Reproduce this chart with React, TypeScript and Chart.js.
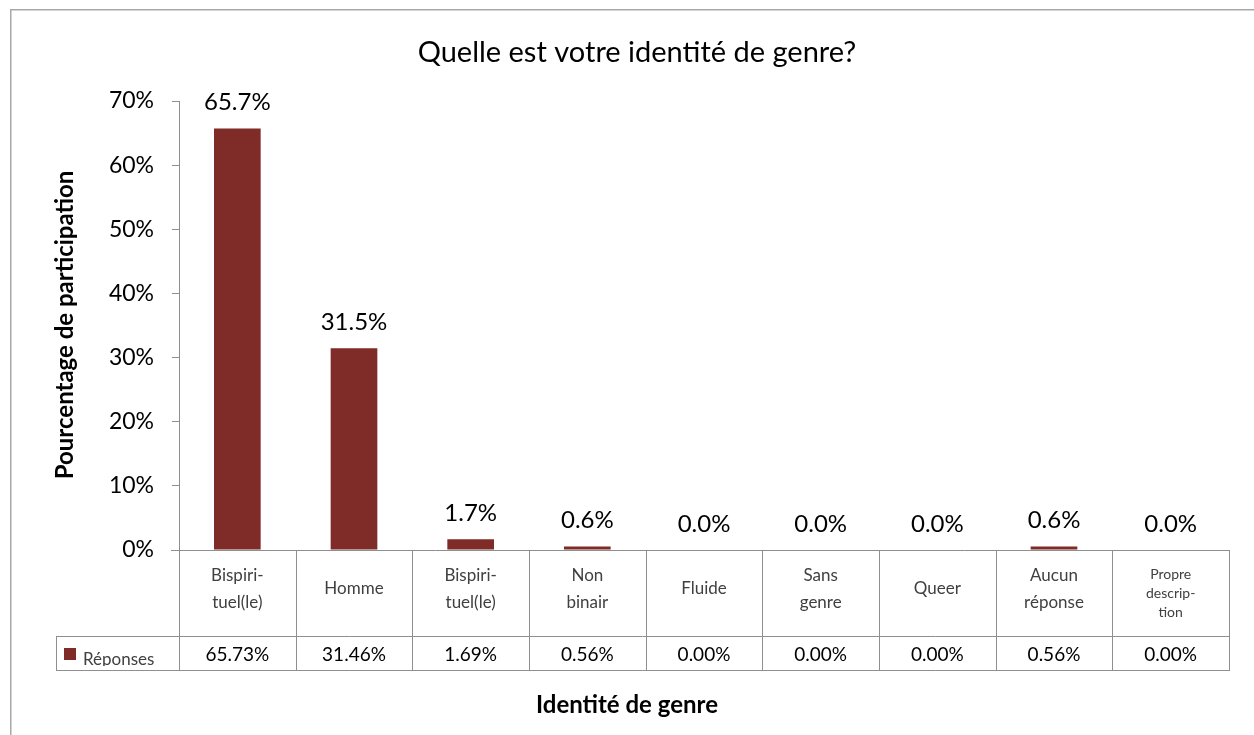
import React, { useEffect, useRef } from 'react';
import { Chart, registerables } from 'chart.js';

Chart.register(...registerables);

const chartTitle = 'Quelle est votre identité de genre?';
const yAxisTitle = 'Pourcentage de participation';
const xAxisTitle = 'Identité de genre';
const seriesName = 'Réponses';
const categoryLines: string[][] = [
  ['Bispiri-', 'tuel(le)'],
  ['Homme'],
  ['Bispiri-', 'tuel(le)'],
  ['Non', 'binair'],
  ['Fluide'],
  ['Sans', 'genre'],
  ['Queer'],
  ['Aucun', 'réponse'],
  ['Propre', 'descrip-', 'tion'],
];
const responseValues = [65.73, 31.46, 1.69, 0.56, 0.0, 0.0, 0.0, 0.56, 0.0];
const yMin = 0;
const yMax = 70;
const yStep = 10;

const FONT = 'Lato, "Open Sans", "DejaVu Sans", sans-serif';
const BAR_COLOR = '#7F2B28';
const LINE_COLOR = '#8f8f8f';

const decorPlugin = {
  id: 'decor',
  afterDraw(chart: any) {
    const ctx: CanvasRenderingContext2D = chart.ctx;
    const area = chart.chartArea;
    const xs = chart.scales.x;
    const n = responseValues.length;
    const colW = (area.right - area.left) / n;
    ctx.save();

    // frame
    ctx.strokeStyle = '#a8a8a8';
    ctx.lineWidth = 1.5;
    ctx.strokeRect(10.75, 9.75, 1400, 900);

    // title
    ctx.fillStyle = '#000';
    ctx.font = `29px ${FONT}`;
    ctx.textAlign = 'center';
    ctx.textBaseline = 'middle';
    ctx.fillText(chartTitle, 637, 53);

    // y axis title
    ctx.save();
    ctx.translate(65, 325);
    ctx.rotate(-Math.PI / 2);
    ctx.font = `bold 24px ${FONT}`;
    ctx.fillText(yAxisTitle, 0, 0);
    ctx.restore();

    // x axis title
    ctx.font = `bold 24px ${FONT}`;
    ctx.fillText(xAxisTitle, 627, 705);

    // data labels
    const meta = chart.getDatasetMeta(0);
    ctx.font = `24px ${FONT}`;
    ctx.textBaseline = 'bottom';
    meta.data.forEach((bar: any, i: number) => {
      ctx.fillText(responseValues[i].toFixed(1) + '%', bar.x, bar.y - 14);
    });

    // table
    const top = area.bottom;
    const rowMid = 636;
    const bottom = 670;
    const legendLeft = 56;
    ctx.strokeStyle = LINE_COLOR;
    ctx.lineWidth = 1;
    ctx.beginPath();
    ctx.moveTo(area.left - 8, top + 0.5);
    ctx.lineTo(area.right, top + 0.5);
    ctx.moveTo(legendLeft, rowMid + 0.5);
    ctx.lineTo(area.right, rowMid + 0.5);
    ctx.moveTo(legendLeft, bottom + 0.5);
    ctx.lineTo(area.right, bottom + 0.5);
    for (let i = 0; i <= n; i++) {
      const x = Math.round(area.left + i * colW) + 0.5;
      ctx.moveTo(x, top);
      ctx.lineTo(x, bottom + 1);
    }
    ctx.moveTo(legendLeft + 0.5, rowMid);
    ctx.lineTo(legendLeft + 0.5, bottom + 1);
    ctx.stroke();

    // category labels
    ctx.textBaseline = 'middle';
    ctx.fillStyle = '#404040';
    categoryLines.forEach((lines, i) => {
      const cx = xs.getPixelForValue(i);
      const small = lines.length > 2;
      const lh = small ? 19 : 27;
      ctx.font = `${small ? 14 : 17}px ${FONT}`;
      const cy = small ? 593 : 589;
      lines.forEach((t, j) => {
        ctx.fillText(t, cx, cy + (j - (lines.length - 1) / 2) * lh);
      });
    });

    // values row
    ctx.fillStyle = '#000';
    ctx.font = `19px ${FONT}`;
    responseValues.forEach((v, i) => {
      ctx.fillText(v.toFixed(2) + '%', xs.getPixelForValue(i), 655);
    });

    // legend cell
    ctx.fillStyle = BAR_COLOR;
    ctx.fillRect(64, 648, 12, 12);
    ctx.save();
    ctx.beginPath();
    ctx.rect(legendLeft, rowMid, 200, bottom - rowMid - 4);
    ctx.clip();
    ctx.fillStyle = '#404040';
    ctx.font = `17px ${FONT}`;
    ctx.textAlign = 'left';
    ctx.fillText(seriesName, 83, 660);
    ctx.restore();

    ctx.restore();
  },
};

export default function App() {
  const canvasRef = useRef<HTMLCanvasElement | null>(null);

  useEffect(() => {
    if (!canvasRef.current) return;
    const chart = new Chart(canvasRef.current, {
      type: 'bar',
      data: {
        labels: categoryLines.map((l) => l.join(' ')),
        datasets: [
          {
            label: seriesName,
            data: responseValues,
            backgroundColor: BAR_COLOR,
            barPercentage: 0.4,
            categoryPercentage: 1,
          },
        ],
      },
      options: {
        animation: false,
        responsive: true,
        maintainAspectRatio: false,
        layout: { padding: { top: 101, bottom: 185, left: 0, right: 25 } },
        plugins: {
          legend: { display: false },
          tooltip: { enabled: false },
          title: { display: false },
        },
        scales: {
          x: { display: false, offset: true },
          y: {
            min: yMin,
            max: yMax,
            ticks: {
              stepSize: yStep,
              callback: (v: any) => v + '%',
              padding: 18,
              color: '#000',
              font: { family: FONT, size: 23 },
            },
            grid: {
              drawOnChartArea: false,
              drawTicks: true,
              tickLength: 7,
              color: LINE_COLOR,
              tickColor: LINE_COLOR,
            },
            border: { display: true, color: LINE_COLOR },
            afterFit: (s: any) => {
              s.width = 179;
            },
          },
        },
      } as any,
      plugins: [decorPlugin],
    });
    return () => chart.destroy();
  }, []);

  return (
    <div style={{ position: 'absolute', left: 0, top: 0, width: 1254, height: 735, background: '#fff' }}>
      <canvas ref={canvasRef} />
    </div>
  );
}
